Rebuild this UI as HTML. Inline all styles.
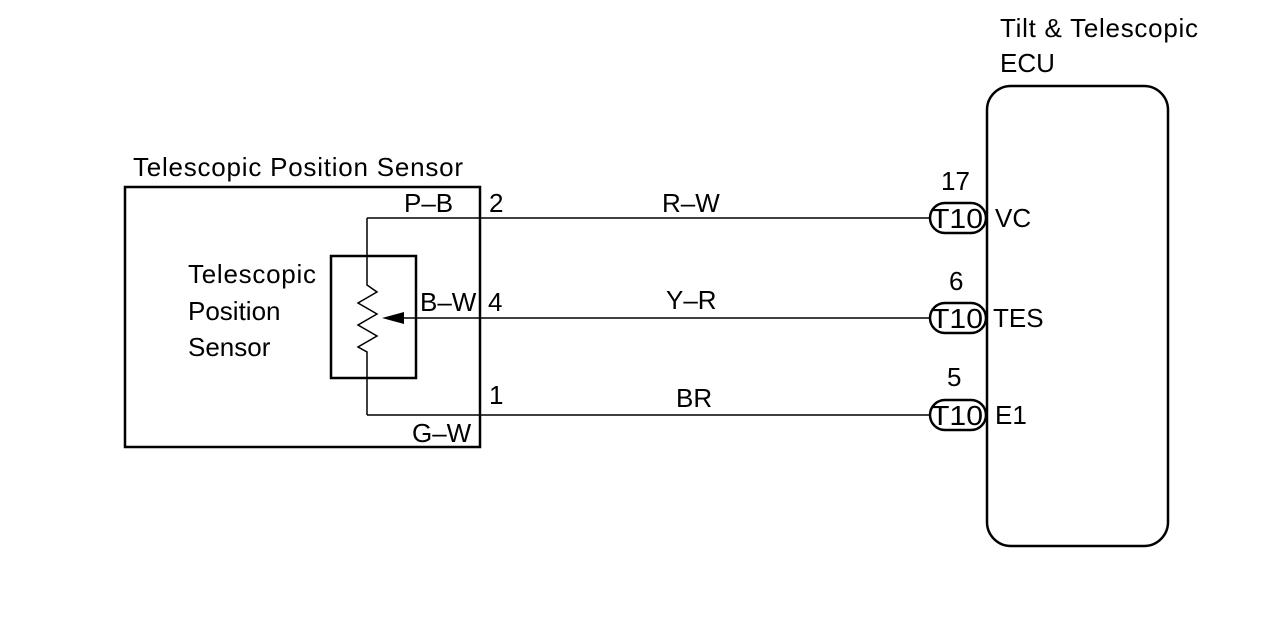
<!DOCTYPE html>
<html><head><style>body{margin:0;background:#fff}</style></head><body>
<svg width="1280" height="614" xmlns="http://www.w3.org/2000/svg" font-family="Liberation Sans, sans-serif" font-size="26" fill="#000">
<rect x="125" y="187" width="355" height="260" fill="none" stroke="#000" stroke-width="2.5"/>
<rect x="331" y="256" width="85" height="122" fill="none" stroke="#000" stroke-width="2.5"/>
<path d="M367,218 V285 L377,292 L358,303 L377,314 L358,325 L377,336 L358,347 L367,352 V415" fill="none" stroke="#000" stroke-width="1.5"/>
<line x1="367" y1="218" x2="930" y2="218" stroke="#000" stroke-width="1.5"/>
<line x1="367" y1="415" x2="930" y2="415" stroke="#000" stroke-width="1.5"/>
<line x1="392" y1="318" x2="930" y2="318" stroke="#000" stroke-width="1.5"/>
<polygon points="382,318 404,312 404,324" fill="#000"/>
<rect x="987" y="86" width="181" height="460" rx="24" fill="none" stroke="#000" stroke-width="2.5"/>
<rect x="930" y="203" width="56" height="30" rx="15" fill="none" stroke="#000" stroke-width="2.5"/>
<rect x="930" y="303" width="56" height="30" rx="15" fill="none" stroke="#000" stroke-width="2.5"/>
<rect x="930" y="400" width="56" height="30" rx="15" fill="none" stroke="#000" stroke-width="2.5"/>
<g font-size="28"><text x="931" y="228" textLength="52" lengthAdjust="spacingAndGlyphs">T10</text><text x="931" y="328" textLength="52" lengthAdjust="spacingAndGlyphs">T10</text><text x="931" y="425" textLength="52" lengthAdjust="spacingAndGlyphs">T10</text></g>
<text x="995" y="227">VC</text><text x="993" y="327">TES</text><text x="995" y="424">E1</text>
<text x="941" y="190">17</text><text x="949" y="290">6</text><text x="947" y="386">5</text>
<text x="1000" y="37" textLength="198">Tilt &amp; Telescopic</text><text x="1000" y="72">ECU</text>
<text x="133" y="176" textLength="330">Telescopic Position Sensor</text>
<text x="188" y="283" textLength="128">Telescopic</text><text x="188" y="320">Position</text><text x="188" y="356">Sensor</text>
<text x="404" y="212">P–B</text><text x="420" y="311">B–W</text><text x="412" y="442">G–W</text>
<text x="489" y="212">2</text><text x="488" y="311">4</text><text x="489" y="404">1</text>
<text x="662" y="212">R–W</text><text x="666" y="309">Y–R</text><text x="676" y="407">BR</text>
</svg>
</body></html>
